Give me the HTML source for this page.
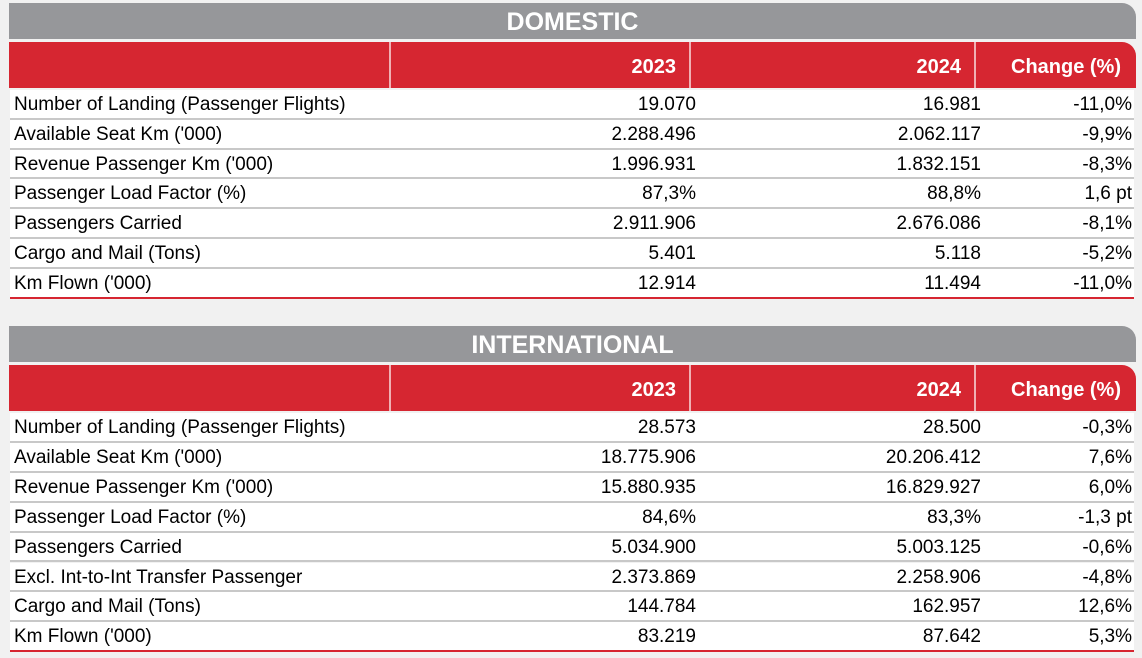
<!DOCTYPE html>
<html><head><meta charset="utf-8"><style>
body{margin:0;width:1142px;height:658px;background:#f1f1f1;font-family:"Liberation Sans",Arial,sans-serif;position:relative;overflow:hidden}
.title{position:absolute;left:9px;width:1127px;height:36px;background:#96979a;border-top-right-radius:14px;color:#fff;font-weight:bold;font-size:25px;text-align:center;line-height:38px}
.hdr{position:absolute;left:9px;width:1127px;height:46px;background:#d62631;border-top-right-radius:14px}
.hcell{position:absolute;top:0;height:46px;color:#fff;font-weight:bold;font-size:20px;line-height:50px;text-align:right;box-sizing:border-box;padding-right:14px}
.div{position:absolute;top:0;width:2px;height:46px;background:#f0b0b4}
.row{position:absolute;left:10px;width:1124px;background:#fff;border-bottom:2px solid #c8c8c8;box-sizing:border-box;font-size:19px;color:#000}
.row.last{border-bottom:2px solid #d62631}
.c{position:absolute;top:0;white-space:nowrap}
</style></head><body>
<div id="root"></div>
<script>
const domLabels=["Number of Landing (Passenger Flights)","Available Seat Km ('000)","Revenue Passenger Km ('000)","Passenger Load Factor (%)","Passengers Carried","Cargo and Mail (Tons)","Km Flown ('000)"];
const dom2023=["19.070","2.288.496","1.996.931","87,3%","2.911.906","5.401","12.914"];
const dom2024=["16.981","2.062.117","1.832.151","88,8%","2.676.086","5.118","11.494"];
const domChg=["-11,0%","-9,9%","-8,3%","1,6 pt","-8,1%","-5,2%","-11,0%"];
const intLabels=["Number of Landing (Passenger Flights)","Available Seat Km ('000)","Revenue Passenger Km ('000)","Passenger Load Factor (%)","Passengers Carried","Excl. Int-to-Int Transfer Passenger","Cargo and Mail (Tons)","Km Flown ('000)"];
const int2023=["28.573","18.775.906","15.880.935","84,6%","5.034.900","2.373.869","144.784","83.219"];
const int2024=["28.500","20.206.412","16.829.927","83,3%","5.003.125","2.258.906","162.957","87.642"];
const intChg=["-0,3%","7,6%","6,0%","-1,3 pt","-0,6%","-4,8%","12,6%","5,3%"];
const root=document.getElementById('root');
function section(name,title,top,labels,a,b,c,rowH){
  const t=document.createElement('div');t.className='title';t.style.top=top+'px';t.textContent=title;
  
  
  root.appendChild(t);
  const h=document.createElement('div');h.className='hdr';h.style.top=(top+39)+'px';
  
  
  const cols=[[381,681,'2023'],[681,966,'2024'],[966,1127,'Change (%)']];
  cols.forEach(([l,r,txt])=>{
    const d=document.createElement('div');d.className='div';d.style.left=(l-1)+'px';h.appendChild(d);
    const hc=document.createElement('div');hc.className='hcell';hc.style.left=l+'px';hc.style.width=(r-l)+'px';hc.textContent=txt;
    if(txt==='Change (%)'){hc.style.paddingRight='15px';}
    
    
    h.appendChild(hc);
  });
  root.appendChild(h);
  const start=top+87;
  labels.forEach((lab,i)=>{
    const r=document.createElement('div');r.className='row'+(i===labels.length-1?' last':'');
    r.style.top=(start+i*rowH)+'px';r.style.height=rowH+'px';r.style.lineHeight=(rowH+1)+'px';
    
    
    const vals=[[lab,4,null],[a[i],null,1134-10-686],[b[i],null,1134-10-971],[c[i],null,2]];
    vals.forEach(([v,l,rt],j)=>{
      const s=document.createElement('span');s.className='c';s.textContent=v;
      if(l!==null)s.style.left=l+'px';else s.style.right=rt+'px';
      
      
      r.appendChild(s);
    });
    root.appendChild(r);
  });
}
section('domestic','DOMESTIC',3,domLabels,dom2023,dom2024,domChg,29.8);
section('international','INTERNATIONAL',326,intLabels,int2023,int2024,intChg,29.9);
</script>
</body></html>
